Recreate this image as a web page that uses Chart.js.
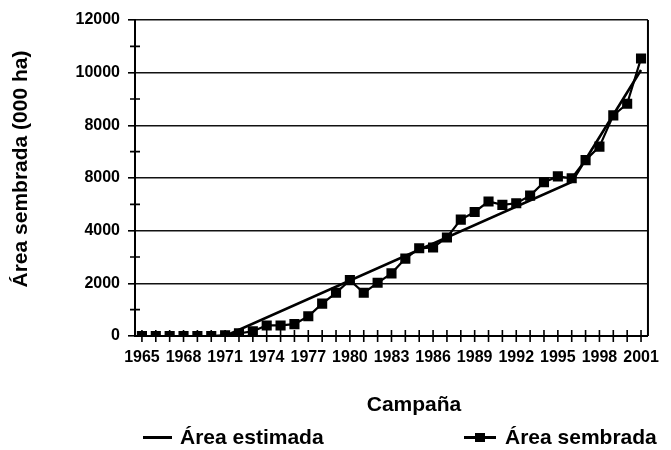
<!DOCTYPE html>
<html lang="es">
<head>
    <meta charset="UTF-8">
    <style>
        body {
            margin: 0;
            padding: 0;
            background: #ffffff;
            font-family: "Liberation Sans", Arial, sans-serif;
        }
        .wrap {
            position: relative;
            width: 671px;
            height: 450px;
        }
        .legend {
            position: absolute;
            top: 423px;
            left: 0;
            width: 671px;
            height: 28px;
            font-weight: bold;
            font-size: 21px;
            color: #000;
        }
        .legend .item {
            position: absolute;
            top: 0;
            height: 28px;
            line-height: 28px;
            white-space: nowrap;
        }
        .legend .sample {
            position: absolute;
            top: 13px;
            height: 3px;
            background: #000;
        }
        .legend .box {
            position: absolute;
            top: 10px;
            width: 10px;
            height: 9px;
            background: #000;
        }
    </style>
    <script src="https://cdn.jsdelivr.net/npm/chart.js"></script>
</head>
<body>
    <div class="wrap">
        <canvas id="areaChart" width="671" height="450"></canvas>
        <div class="legend">
            <span class="sample" style="left:143px; width:29px;"></span>
            <span class="item" style="left:180px;">Área estimada</span>
            <span class="sample" style="left:464px; width:32px;"></span>
            <span class="box" style="left:475px;"></span>
            <span class="item" style="left:505px;">Área sembrada</span>
        </div>
    </div>

    <script>
        const years = [];
        for (let y = 1965; y <= 2001; y++) years.push(String(y));

        // área sembrada (000 ha)
        const areaSembrada = [
            0, 0, 0, 0, 0, 0, 30, 100, 180, 400,
            400, 450, 750, 1230, 1640, 2120, 1640, 2020, 2380, 2940,
            3330, 3360, 3740, 4420, 4710, 5110, 4980, 5040, 5330, 5840,
            6060, 5990, 6680, 7190, 8380, 8820, 10540
        ];

        // área estimada: tramos rectos 1971-1996 y 1996-2001
        const areaEstimada = years.map(() => null);
        areaEstimada[years.indexOf('1971')] = 0;
        areaEstimada[years.indexOf('1996')] = 5850;
        areaEstimada[years.indexOf('2001')] = 10100;

        const yTicks = [0, 2000, 4000, 6000, 8000, 10000, 12000];
        const yTickLabels = ['0', '2000', '4000', '8000', '8000', '10000', '12000'];

        const FONT = '"Liberation Sans", Arial, sans-serif';

        // marcas que cruzan los ejes, borde derecho y títulos de ejes
        const crossTicks = {
            id: 'crossTicks',
            afterDraw(chart) {
                const ctx = chart.ctx;
                const x = chart.scales.x;
                const y = chart.scales.y;
                const area = chart.chartArea;
                ctx.save();
                ctx.strokeStyle = '#000';
                ctx.lineWidth = 1.6;
                ctx.beginPath();
                years.forEach((_, i) => {
                    const px = x.getPixelForValue(i);
                    ctx.moveTo(px, area.bottom - 6);
                    ctx.lineTo(px, area.bottom + 6);
                });
                for (let v = 1000; v < 12000; v += 2000) {
                    const py = y.getPixelForValue(v);
                    ctx.moveTo(area.left - 5, py);
                    ctx.lineTo(area.left + 5, py);
                }
                ctx.stroke();
                ctx.lineWidth = 2;
                ctx.beginPath();
                ctx.moveTo(area.right, area.top);
                ctx.lineTo(area.right, area.bottom);
                ctx.stroke();

                ctx.fillStyle = '#000';
                ctx.font = 'bold 21px ' + FONT;
                ctx.textAlign = 'center';
                ctx.textBaseline = 'middle';
                ctx.fillText('Campaña', area.left + 279, area.bottom + 69);
                ctx.translate(21, area.top + 149);
                ctx.rotate(-Math.PI / 2);
                ctx.fillText('Área sembrada (000 ha)', 0, 0);
                ctx.restore();
            }
        };

        const ctx = document.getElementById('areaChart').getContext('2d');
        new Chart(ctx, {
            type: 'line',
            data: {
                labels: years,
                datasets: [
                    {
                        label: 'Área estimada',
                        data: areaEstimada,
                        spanGaps: true,
                        borderColor: '#000',
                        borderWidth: 2.6,
                        pointRadius: 0,
                        tension: 0
                    },
                    {
                        label: 'Área sembrada',
                        data: areaSembrada,
                        borderColor: '#000',
                        backgroundColor: '#000',
                        borderWidth: 2.2,
                        pointStyle: 'rect',
                        pointRadius: 5.6,
                        pointHoverRadius: 5.6,
                        tension: 0
                    }
                ]
            },
            options: {
                responsive: false,
                animation: false,
                layout: {
                    padding: { left: 0, right: 13, top: 20, bottom: 0 }
                },
                plugins: {
                    legend: { display: false },
                    tooltip: { enabled: false }
                },
                scales: {
                    x: {
                        offset: true,
                        grid: { display: false, drawTicks: false },
                        border: { display: true, color: '#000', width: 2 },
                        afterFit(scale) { scale.height = 114; },
                        ticks: {
                            autoSkip: false,
                            maxRotation: 0,
                            padding: 12,
                            color: '#000',
                            font: { family: FONT, size: 16, weight: 'bold' },
                            callback: function (value, index) {
                                return (index % 3 === 0) ? years[index] : '';
                            }
                        }
                    },
                    y: {
                        min: 0,
                        max: 12000,
                        afterFit(scale) { scale.width = 135; },
                        afterBuildTicks(scale) {
                            scale.ticks = yTicks.map(v => ({ value: v }));
                        },
                        grid: {
                            color: '#111',
                            lineWidth: 1.6,
                            drawTicks: true,
                            tickLength: 7,
                            tickColor: '#000'
                        },
                        border: { display: true, color: '#000', width: 2 },
                        ticks: {
                            padding: 8,
                            color: '#000',
                            font: { family: FONT, size: 16, weight: 'bold' },
                            callback: function (value) {
                                const i = yTicks.indexOf(value);
                                return i >= 0 ? yTickLabels[i] : '';
                            }
                        }
                    }
                }
            },
            plugins: [crossTicks]
        });
    </script>
</body>
</html>
